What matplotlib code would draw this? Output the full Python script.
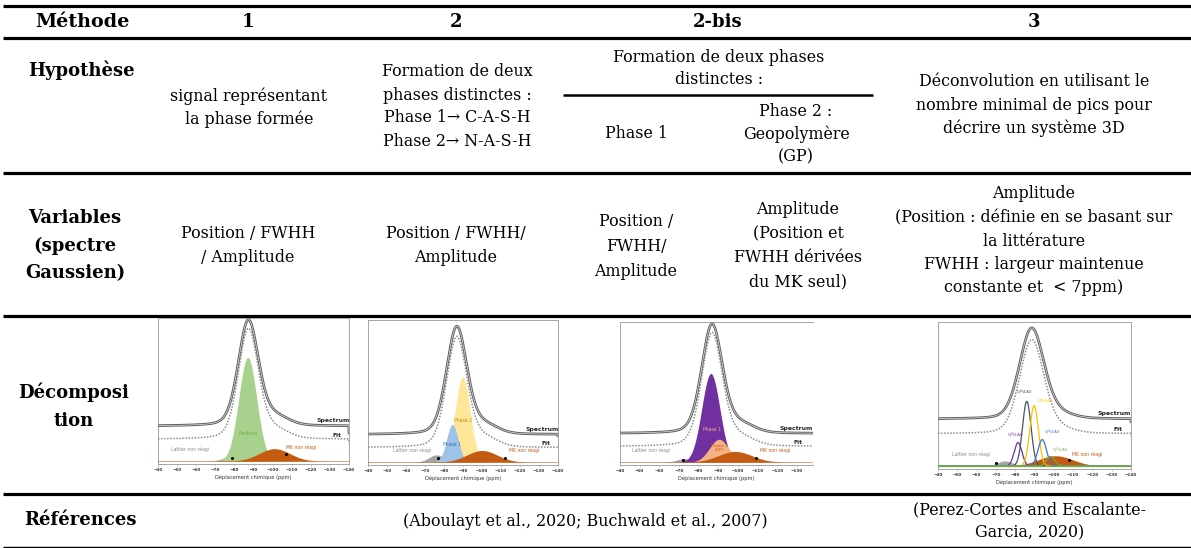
import numpy as np
import matplotlib
matplotlib.use('Agg')
import matplotlib.pyplot as plt

# ---------------- table texts ----------------
methods = ['1', '2', '2-bis', '3']
row_labels = ['Méthode', 'Hypothèse', ['Variables', '(spectre', 'Gaussien)'],
              ['Décomposi', 'tion'], 'Références']
hyp_1 = ['signal représentant', 'la phase formée']
hyp_2 = ['Formation de deux', 'phases distinctes :', 'Phase 1→ C-A-S-H', 'Phase 2→ N-A-S-H']
hyp_2bis_top = ['Formation de deux phases', 'distinctes :']
hyp_2bis_a = ['Phase 1']
hyp_2bis_b = ['Phase 2 :', 'Geopolymère', '(GP)']
hyp_3 = ['Déconvolution en utilisant le', 'nombre minimal de pics pour', 'décrire un système 3D']
var_1 = ['Position / FWHH', '/ Amplitude']
var_2 = ['Position / FWHH/', 'Amplitude']
var_2bis_a = ['Position /', 'FWHH/', 'Amplitude']
var_2bis_b = ['Amplitude', '(Position et', 'FWHH dérivées', 'du MK seul)']
var_3 = ['Amplitude', '(Position : définie en se basant sur', 'la littérature',
         'FWHH : largeur maintenue', 'constante et  < 7ppm)']
ref_12 = '(Aboulayt et al., 2020; Buchwald et al., 2007)'
ref_3 = ['(Perez-Cortes and Escalante-', 'Garcia, 2020)']

# ---------------- mini spectra data ----------------
tick_vals = [-40, -50, -60, -70, -80, -90, -100, -110, -120, -130, -140]
spec_base_left = [0.21, 0.20, 0.175, 0.32]
spec_base_right = [0.26, 0.21, 0.22, 0.34]
spec_center = [-87.3, -86.7, -86.8, -88.5]
spec_amp = [0.72, 0.74, 0.76, 0.61]
spec_sigma = [5.3, 5.4, 5.3, 6.3]
spec_lorentz = [0.25, 0.25, 0.25, 0.2]
fit_base_left = [0.14, 0.11, 0.105, 0.22]
fit_base_right = [0.17, 0.12, 0.13, 0.24]
fit_amp = [0.75, 0.76, 0.79, 0.63]
tail_center = [-101, -101, -101, -101]
tail_amp = [0.06, 0.06, 0.06, 0.035]
tail_sigma = [7, 7, 7, 8]

# panel 1
p1_names = ['Lattier non réagi', 'Produits', 'MK non réagi']
p1_centers = [-79, -87, -101]
p1_amps = [0.035, 0.71, 0.085]
p1_sigmas = [4.5, 4.7, 8]
p1_colors = ['#a5a5a5', '#a9d18e', '#c55a11']
# panel 2 (drawing order: lattier, phase 2, phase 1, MK)
p2_names = ['Lattier non réagi', 'Phase 2', 'Phase 1', 'MK non réagi']
p2_centers = [-76, -89.8, -84.4, -100]
p2_amps = [0.05, 0.59, 0.26, 0.08]
p2_sigmas = [4.0, 3.9, 3.0, 8]
p2_colors = ['#a5a5a5', '#ffe699', '#9dc3e6', '#c55a11']
# panel 3
p3_names = ['Lattier non réagi', 'Phase 1', 'Phase 2 (GP)', 'MK non réagi']
p3_centers = [-73, -86.2, -90.4, -98.6]
p3_amps = [0.025, 0.62, 0.16, 0.075]
p3_sigmas = [4.0, 4.6, 4.9, 8.5]
p3_colors = ['#a5a5a5', '#7030a0', '#f4b183', '#c55a11']
# panel 4 : filled components
p4_fill_names = ['Lattier non réagi', 'MK non réagi']
p4_fill_centers = [-74.6, -100.9]
p4_fill_amps = [0.035, 0.07]
p4_fill_sigmas = [4.0, 9.0]
p4_fill_colors = ['#a5a5a5', '#c55a11']
# panel 4 : Q4 outline peaks
p4_q_names = ['Q$^4$(2Al)', 'Q$^4$(4Al)', 'Q$^4$(3Al)', 'Q$^4$(2Al)', 'Q$^4$(1Al)']
p4_q_centers = [-81.5, -86.0, -89.8, -94.0, -98.4]
p4_q_amps = [0.16, 0.44, 0.41, 0.18, 0.065]
p4_q_sigmas = [2.0, 2.2, 2.2, 2.2, 2.2]
p4_q_colors = ['#7030a0', '#44546a', '#ffc000', '#4472c4', '#70ad47']

# ---------------- figure ----------------
W, H = 1191, 548
fig = plt.figure(figsize=(W / 100, H / 100), dpi=100)
ax = fig.add_axes([0, 0, 1, 1])
ax.set_xlim(0, W)
ax.set_ylim(H, 0)
ax.axis('off')

SERIF = 'DejaVu Serif'
BODY = 11.4
LAB = 13


def block(lines, x, yc, size=BODY, weight='normal', dy=23):
    if isinstance(lines, str):
        lines = [lines]
    n = len(lines)
    for i, s in enumerate(lines):
        y = yc + (i - (n - 1) / 2) * dy
        ax.text(x, y, s, ha='center', va='center', fontsize=size,
                fontweight=weight, family=SERIF, color='black')


# horizontal rules
for y, lw in [(6, 2.3), (38, 2.3), (173, 2.3), (316, 2.3), (494, 2.3), (547, 1.0)]:
    ax.plot([3, W], [y, y], color='black', lw=lw, solid_capstyle='butt')
ax.plot([563, 873], [95, 95], color='black', lw=1.8, solid_capstyle='butt')

# header
block(row_labels[0], 82, 22, size=LAB + 0.8, weight='bold')
for m, x in zip(methods, [248, 456, 718, 1034]):
    block(m, x, 22, size=LAB, weight='bold')

# Hypothèse row
block(row_labels[1], 81, 70, size=LAB, weight='bold')
block(hyp_1, 249, 107.5)
block(hyp_2, 457, 106.5)
block(hyp_2bis_top, 719, 68, dy=22)
block(hyp_2bis_a, 636, 134)
block(hyp_2bis_b, 796, 134)
block(hyp_3, 1034, 105)

# Variables row
block(row_labels[2], 75, 245.5, size=LAB, weight='bold', dy=27.5)
block(var_1, 248, 245.5)
block(var_2, 456, 245.5)
block(var_2bis_a, 636, 246.5, dy=24.5)
block(var_2bis_b, 798, 246, dy=24)
block(var_3, 1034, 241, dy=23.5)

# Décomposition row label
block(row_labels[3], 74, 406.5, size=LAB, weight='bold', dy=29)

# Références row
block(row_labels[4], 80, 520, size=LAB, weight='bold')
block(ref_12, 585, 521)
block(ref_3, 1030, 521.5)

# ---------------- mini spectra ----------------
ppm = np.linspace(-40, -140, 700)


def gauss(c, a, s):
    return a * np.exp(-0.5 * ((ppm - c) / s) ** 2)


def pvoigt(c, s, eta):
    g = np.exp(-0.5 * ((ppm - c) / s) ** 2)
    l = 1.0 / (1.0 + ((ppm - c) / (1.1774 * s)) ** 2)
    return (1 - eta) * g + eta * l


def add_panel(box, xr, k, hide_right=False):
    x0, y0, x1, y1 = box
    a = fig.add_axes([x0 / W, 1 - y1 / H, (x1 - x0) / W, (y1 - y0) / H])
    a.set_xlim(*xr)
    a.set_ylim(0, 1)
    for sp in a.spines.values():
        sp.set_color('#a6a6a6')
        sp.set_linewidth(0.7)
    if hide_right:
        a.spines['right'].set_visible(False)
    a.set_yticks([])
    a.set_xticks([t for t in tick_vals if xr[1] <= t <= xr[0]])
    a.tick_params(axis='x', labelsize=3.0, length=1.5, width=0.4, pad=1.5,
                  colors='#a6a6a6', labelcolor='#333333')
    for lbl in a.get_xticklabels():
        lbl.set_fontweight('bold')
    a.set_xlabel('Déplacement chimique (ppm)', fontsize=3.7, labelpad=1.5,
                 color='#333333')
    base_s = np.interp(ppm, [-40, -140], [spec_base_left[k], spec_base_right[k]])
    base_f = np.interp(ppm, [-40, -140], [fit_base_left[k], fit_base_right[k]])
    shape = pvoigt(spec_center[k], spec_sigma[k], spec_lorentz[k])
    tail = gauss(tail_center[k], tail_amp[k], tail_sigma[k])
    spec = base_s + spec_amp[k] * shape + tail
    fit = base_f + fit_amp[k] * shape + tail
    a.plot(ppm, spec, color='#5f5f5f', lw=1.9, zorder=5)
    a.plot(ppm, spec, color='#e0e0e0', lw=0.5, zorder=6)
    a.plot(ppm, fit, color='#8c8c8c', lw=1.1, ls=(0, (1, 1)), zorder=5)
    sx = xr[1] + 8.5
    a.text(sx, spec_base_right[k] + 0.02, 'Spectrum', fontsize=4.4, fontweight='bold',
           color='#262626', ha='center', va='bottom', zorder=7, clip_on=True)
    a.text(sx - 2 if k != 2 else sx - 1, fit_base_right[k] + 0.01, 'Fit', fontsize=4.2,
           fontweight='bold', color='#262626', ha='center', va='bottom', zorder=7,
           clip_on=True)
    return a


boxes = [(158, 318, 349, 464), (368, 320, 558, 465), (620, 322, 813, 465),
         (938, 322, 1131, 469)]
xranges = [(-40, -140), (-40, -140), (-40, -138.2), (-40, -140)]
B = 0.02

# panel 1
a1 = add_panel(boxes[0], xranges[0], 0)
for c, am, s, col in zip(p1_centers, p1_amps, p1_sigmas, p1_colors):
    a1.fill_between(ppm, B, B + gauss(c, am, s), color=col, lw=0, zorder=2)
a1.plot(ppm, np.full_like(ppm, B), color='#c55a11', lw=0.4, zorder=3)
a1.text(-87, 0.2, p1_names[1], fontsize=3.4, color='#70ad47', ha='center', zorder=4)
a1.text(-57, 0.09, p1_names[0], fontsize=3.3, color='#8c8c8c', ha='center')
a1.text(-115, 0.1, p1_names[2], fontsize=3.3, color='#c55a11', ha='center')
a1.plot([-79, -107], [0.04, 0.07], 'o', ms=1.2, color='black', zorder=4)

# panel 2
a2 = add_panel(boxes[1], xranges[1], 1)
for c, am, s, col in zip(p2_centers, p2_amps, p2_sigmas, p2_colors):
    a2.fill_between(ppm, B, B + gauss(c, am, s), color=col, lw=0, zorder=2)
a2.plot(ppm, np.full_like(ppm, B), color='#c55a11', lw=0.4, zorder=3)
a2.text(-90.2, 0.3, p2_names[1], fontsize=3.3, color='#bf9000', ha='center', zorder=4)
a2.text(-84.5, 0.13, p2_names[2], fontsize=3.3, color='#2e75b6', ha='center', zorder=4)
a2.text(-63, 0.09, p2_names[0], fontsize=3.3, color='#8c8c8c', ha='center')
a2.text(-122, 0.09, p2_names[3], fontsize=3.3, color='#c55a11', ha='center')
a2.plot([-77, -112], [0.045, 0.05], 'o', ms=1.2, color='black', zorder=4)

# panel 3
a3 = add_panel(boxes[2], xranges[2], 2, hide_right=True)
for c, am, s, col in zip(p3_centers, p3_amps, p3_sigmas, p3_colors):
    a3.fill_between(ppm, B, B + gauss(c, am, s), color=col, lw=0, zorder=2)
a3.plot(ppm, np.full_like(ppm, B), color='#c55a11', lw=0.4, zorder=3)
a3.text(-86.6, 0.24, p3_names[1], fontsize=3.3, color='#f4b183', ha='center', zorder=4)
a3.text(-90.5, 0.1, 'Phase 2\n(GP)', fontsize=3.1, color='#c55a11', ha='center',
        zorder=4, linespacing=1.0)
a3.text(-56, 0.09, p3_names[0], fontsize=3.3, color='#8c8c8c', ha='center')
a3.text(-119, 0.09, p3_names[3], fontsize=3.3, color='#c55a11', ha='center')
a3.plot([-72, -109], [0.035, 0.05], 'o', ms=1.2, color='black', zorder=4)

# panel 4
a4 = add_panel(boxes[3], xranges[3], 3)
for c, am, s, col in zip(p4_fill_centers, p4_fill_amps, p4_fill_sigmas, p4_fill_colors):
    a4.fill_between(ppm, B, B + gauss(c, am, s), color=col, lw=0, zorder=2)
for c, am, s, col in zip(p4_q_centers, p4_q_amps, p4_q_sigmas, p4_q_colors):
    a4.plot(ppm, B + gauss(c, am, s), color=col, lw=0.9, zorder=3)
a4.plot(ppm, np.full_like(ppm, B), color='#70ad47', lw=0.9, zorder=4)
q_lab_x = [-80.0, -84.8, -95.5, -99.5, -103.5]
q_lab_y = [0.23, 0.52, 0.46, 0.25, 0.13]
for nm, lx, ly, col in zip(p4_q_names, q_lab_x, q_lab_y, p4_q_colors):
    a4.text(lx, ly, nm, fontsize=3.0, color=col, ha='center', va='center', zorder=6)
a4.text(-57, 0.09, p4_fill_names[0], fontsize=3.3, color='#8c8c8c', ha='center')
a4.text(-117, 0.09, p4_fill_names[1], fontsize=3.3, color='#c55a11', ha='center')
a4.plot([-70, -108], [0.04, 0.06], 'o', ms=1.2, color='black', zorder=5)

fig.savefig('out.png', dpi=100)
